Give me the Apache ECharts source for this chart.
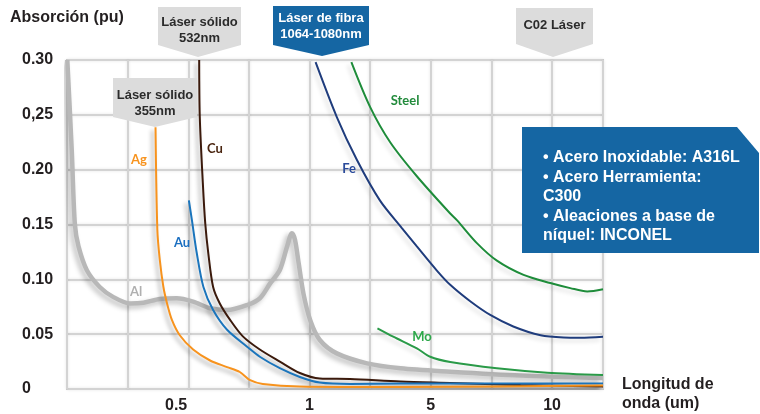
<!DOCTYPE html>
<html><head><meta charset="utf-8">
<script src="https://cdn.jsdelivr.net/npm/echarts@6/dist/echarts.min.js"></script>
<style>html,body{margin:0;padding:0;background:#fff}#c{width:760px;height:414px}</style>
</head><body><div id="c"></div>
<script>
// x values are positions on the chart's (non-linear) wavelength grid: one unit per grid column
const xTickPos = [1.8, 4, 6, 8];
const xTickLabels = ['0.5', '1', '5', '10'];
const yTicks = [0, 0.05, 0.10, 0.15, 0.20, 0.25, 0.30];
const yTickLabels = ['0', '0.05', '0.10', '0.15', '0.20', '0,25', '0.30'];

const alX = [0.005,0.078,0.13,0.19,0.33,0.54,0.76,1.04,1.26,1.53,1.81,2.08,2.36,2.64,2.97,3.18,3.35,3.51,3.63,3.71,3.76,3.82,3.90,4.01,4.17,4.45,4.95,5.5,6.32,7.48,8.84];
const alY = [0.300,0.218,0.150,0.130,0.108,0.093,0.084,0.078,0.0787,0.082,0.0827,0.0796,0.0736,0.072,0.0766,0.0827,0.0963,0.1085,0.130,0.142,0.136,0.115,0.087,0.063,0.0447,0.0325,0.0234,0.0189,0.0158,0.0123,0.010];

const agX = [1.46,1.49,1.53,1.59,1.65,1.73,1.86,2.08,2.36,2.64,2.85,3.02,3.23,3.84,5.5,7.15,8.84];
const agY = [0.2386,0.145,0.118,0.093,0.078,0.063,0.049,0.036,0.026,0.020,0.0155,0.008,0.0046,0.0023,0.0018,0.0023,0.0032];

const cuX = [2.18,2.19,2.24,2.28,2.33,2.41,2.52,2.69,2.90,3.18,3.51,3.84,4.17,4.67,5.5,6.32,7.48,8.84];
const cuY = [0.300,0.248,0.188,0.151,0.124,0.093,0.078,0.063,0.048,0.036,0.025,0.0146,0.0096,0.0091,0.0068,0.0055,0.0036,0.0023];

const auX = [2.01,2.06,2.14,2.25,2.41,2.64,2.97,3.18,3.51,3.84,4.17,4.67,5.5,7.15,8.84];
const auY = [0.172,0.154,0.124,0.093,0.072,0.054,0.0386,0.0294,0.019,0.011,0.0059,0.0046,0.005,0.005,0.005];

const feX = [4.10,4.45,4.78,5.16,5.52,5.77,6.10,6.32,6.65,6.98,7.36,7.81,8.19,8.47,8.84];
const feY = [0.298,0.248,0.209,0.172,0.147,0.130,0.108,0.095,0.080,0.0675,0.057,0.049,0.047,0.0468,0.0477];

const steelX = [4.69,5.00,5.33,5.77,6.32,6.43,6.76,7.09,7.53,7.97,8.30,8.58,8.84];
const steelY = [0.298,0.257,0.225,0.194,0.160,0.154,0.133,0.117,0.104,0.0966,0.092,0.089,0.091];

const moX = [5.12,5.38,5.77,5.99,6.32,7.09,7.92,8.84];
const moY = [0.0553,0.0477,0.0371,0.0294,0.0246,0.0189,0.0149,0.0128];

const zip = (xs, ys) => xs.map((x, i) => [x, ys[i]]);
const FONT = '"Liberation Sans", Arial, sans-serif';
const TXT = '#231f20';

function curve(name, xs, ys, color, width, shadow, blur) {
  return {
    name, type: 'line', data: zip(xs, ys), smooth: 0.3,
    symbol: 'none', silent: true,
    lineStyle: { color, width, shadowColor: shadow, shadowBlur: blur, shadowOffsetX: -3, shadowOffsetY: 3 }
  };
}

function callout(x1, x2, y1, y2, tipX, tipY, fill, lines, color, textTop) {
  const els = [{
    type: 'polygon', z: 100,
    shape: { points: [[x1, y1], [x2, y1], [x2, y2], [tipX, tipY], [x1, y2]] },
    style: { fill }
  }];
  lines.forEach((t, i) => {
    els.push({ type: 'text', z: 101, style: {
      text: t, x: (x1 + x2) / 2, y: textTop + i * 16, textAlign: 'center', textVerticalAlign: 'middle',
      font: 'bold 13px ' + FONT, fill: color } });
  });
  return els;
}

function lbl(text, x, y, color) {
  return { type: 'text', z: 50, style: { text, x, y, textAlign: 'center', textVerticalAlign: 'middle',
    font: 'bold 13px Lato, "Open Sans", sans-serif', fill: color } };
}

const chart = echarts.init(document.getElementById('c'), null, { renderer: 'canvas' });
const gridLine = { color: '#d3d3d3', width: 2, shadowColor: 'rgba(0,0,0,0.12)', shadowBlur: 3 };

const infoLines = ['• Acero Inoxidable: A316L', '• Acero Herramienta:', 'C300', '• Aleaciones a base de', 'níquel: INCONEL'];

chart.setOption({
  animation: false,
  grid: { left: 67, right: 157, top: 60, bottom: 25, containLabel: false, show: true, borderColor: '#d3d3d3', borderWidth: 2, backgroundColor: 'transparent' },
  xAxis: {
    type: 'value', min: 0, max: 8.84, interval: 1,
    axisLine: { show: false }, axisTick: { show: false },
    splitLine: { show: true, lineStyle: gridLine },
    axisLabel: {
      customValues: xTickPos, margin: 9, color: TXT, fontWeight: 'bold', fontSize: 16, fontFamily: FONT,
      formatter: v => { const i = xTickPos.findIndex(p => Math.abs(p - v) < 1e-6); return i >= 0 ? xTickLabels[i] : ''; }
    }
  },
  yAxis: {
    type: 'value', min: 0, max: 0.30, interval: 0.05,
    axisLine: { show: false }, axisTick: { show: false },
    splitLine: { show: true, lineStyle: gridLine },
    axisLabel: {
      align: 'left', margin: 45, color: TXT, fontWeight: 'bold', fontSize: 16, fontFamily: FONT,
      formatter: v => { const i = yTicks.findIndex(p => Math.abs(p - v) < 1e-6); return i >= 0 ? yTickLabels[i] : ''; }
    }
  },
  series: [
    curve('Al', alX, alY, '#b8b8b8', 4.5, 'rgba(0,0,0,0.25)', 5),
    curve('Fe', feX, feY, '#1f3c7c', 2, 'rgba(0,0,0,0.15)', 4),
    curve('Steel', steelX, steelY, '#1e8c3a', 2, 'rgba(0,0,0,0.15)', 4),
    curve('Mo', moX, moY, '#2a9a48', 2, 'rgba(0,0,0,0.15)', 4),
    curve('Cu', cuX, cuY, '#3b1a0c', 2, 'rgba(0,0,0,0.35)', 4),
    curve('Au', auX, auY, '#1b75bc', 2, 'rgba(0,0,0,0.35)', 4),
    curve('Ag', agX, agY, '#f7931e', 2, 'rgba(0,0,0,0.35)', 4)
  ],
  graphic: [
    { type: 'text', style: { text: 'Absorción (pu)', x: 10, y: 18, textVerticalAlign: 'middle', font: 'bold 16px ' + FONT, fill: TXT } },
    { type: 'text', style: { text: 'Longitud de\nonda (um)', x: 622, y: 394, textVerticalAlign: 'middle', font: 'bold 16px ' + FONT, fill: TXT, lineHeight: 19 } },
    ...callout(158, 241, 7, 45, 198, 57, '#dcdcdc', ['Láser sólido', '532nm'], '#2b2b2b', 22),
    ...callout(113, 197, 78, 117, 155, 127, '#dcdcdc', ['Láser sólido', '355nm'], '#2b2b2b', 95),
    ...callout(273, 369, 6, 45, 322, 56, '#1566a3', ['Láser de fibra', '1064-1080nm'], '#ffffff', 18),
    ...callout(516, 593, 8, 44, 553, 57, '#dcdcdc', ['C02 Láser'], '#2b2b2b', 25),
    { type: 'polygon', z: 100, shape: { points: [[522, 127], [737, 127], [759, 153], [759, 253], [522, 253]] }, style: { fill: '#1566a3' } },
    ...infoLines.map((t, i) => ({ type: 'text', z: 101, style: { text: t, x: 543, y: 158 + i * 19.5, textVerticalAlign: 'middle', font: 'bold 16px ' + FONT, fill: '#ffffff' } })),
    lbl('Ag', 139, 160, '#f7931e'),
    lbl('Cu', 215, 149, '#4a2510'),
    lbl('Au', 182, 243, '#1b6fc0'),
    lbl('Al', 136, 292, '#b0b0b0'),
    lbl('Fe', 349, 169, '#2a4a9a'),
    lbl('Steel', 405, 101, '#228b3c'),
    lbl('Mo', 422, 337, '#2da84a')
  ]
});
</script></body></html>
